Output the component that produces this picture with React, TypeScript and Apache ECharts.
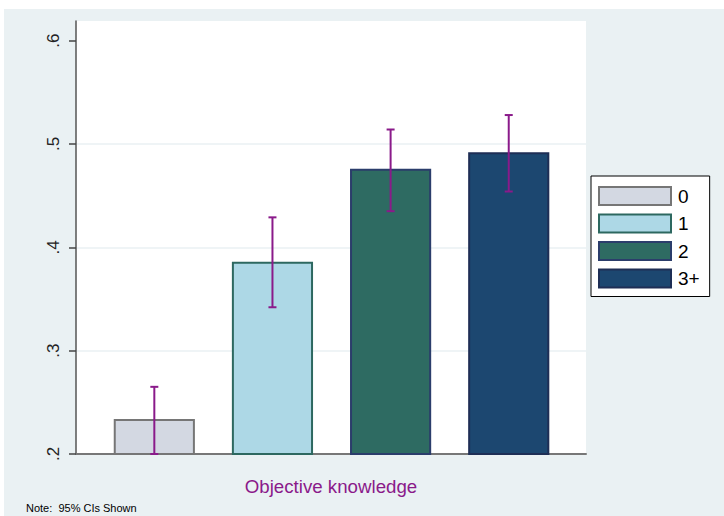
import React, { useEffect, useRef } from "react";
import * as echarts from "echarts";

// Mean share by number of objective-knowledge items, with 95% CIs
const CATEGORIES = ["0", "1", "2", "3+"];
const MEANS = [0.233, 0.385, 0.475, 0.491];
const CI_LOW = [0.2, 0.342, 0.435, 0.454];
const CI_HIGH = [0.265, 0.429, 0.514, 0.528];
const Y_TICKS = [0.2, 0.3, 0.4, 0.5, 0.6];

const FILLS = ["#D3D8E2", "#ADD8E6", "#2E6B62", "#1C4770"];
const STROKES = ["#767676", "#2D6860", "#2B3D6B", "#1E2E55"];
const CI_COLOR = "#8A1A8A";
const FONT = "'Liberation Sans', Arial, sans-serif";

const Y_MIN = 0.2;
const Y_MAX = 0.619;
const BAR_W = 0.67; // in x-data units
const CAP_PX = 8;

export default function App() {
  const ref = useRef<HTMLDivElement>(null);

  useEffect(() => {
    if (!ref.current) return;
    const chart = echarts.init(ref.current, undefined, { renderer: "svg" });

    const barSeries = CATEGORIES.map((name, i) => ({
      name,
      type: "custom" as const,
      xAxisIndex: 0,
      yAxisIndex: 0,
      z: 2,
      itemStyle: { color: FILLS[i], borderColor: STROKES[i], borderWidth: 2 },
      data: [[i, MEANS[i]]],
      renderItem: (params: any, api: any) => {
        const x = api.value(0);
        const top = api.coord([x, api.value(1)]);
        const base = api.coord([x, Y_MIN]);
        const w = api.size([BAR_W, 0])[0];
        return {
          type: "rect",
          shape: { x: top[0] - w / 2, y: top[1], width: w, height: base[1] - top[1] },
          style: { fill: FILLS[i], stroke: STROKES[i], lineWidth: 2 },
        };
      },
    }));

    const ciData = CATEGORIES.map((_, i) => [i, CI_LOW[i], CI_HIGH[i]]);

    chart.setOption({
      animation: false,
      backgroundColor: "#FFFFFF",
      textStyle: { fontFamily: FONT },
      graphic: [
        {
          type: "rect",
          left: 4,
          top: 9,
          z: -10,
          shape: { width: 720, height: 507 },
          style: { fill: "#EAF1F3" },
        },
        {
          type: "text",
          left: 26,
          top: 502,
          style: { text: "Note:  95% CIs Shown", fontSize: 11, fontFamily: FONT, fill: "#000" },
        },
      ],
      grid: {
        left: 76,
        top: 21,
        right: 138,
        bottom: 62,
        show: true,
        backgroundColor: "#FFFFFF",
        borderWidth: 0,
      },
      legend: {
        orient: "vertical",
        left: 591,
        top: 176,
        padding: [10, 10, 8, 7],
        backgroundColor: "#FFFFFF",
        borderColor: "#000000",
        borderWidth: 1,
        borderRadius: 0,
        itemWidth: 72,
        itemHeight: 18,
        itemGap: 7.5,
        icon: "rect",
        selectedMode: false,
        textStyle: { fontSize: 19, lineHeight: 18, color: "#000", fontFamily: FONT, padding: [0, 0, 0, 2] },
        data: CATEGORIES.map((name, i) => ({
          name,
          itemStyle: { color: FILLS[i], borderColor: STROKES[i], borderWidth: 2 },
        })),
      },
      xAxis: {
        type: "value",
        min: -0.663,
        max: 3.654,
        name: "Objective knowledge",
        nameLocation: "middle",
        nameGap: 23,
        nameTextStyle: { color: "#8A1A8A", fontSize: 18.7, fontFamily: FONT },
        axisLine: { show: true, onZero: false, lineStyle: { color: "#777777", width: 2 } },
        axisTick: { show: false },
        axisLabel: { show: false },
        splitLine: { show: false },
      },
      yAxis: {
        type: "value",
        min: Y_MIN,
        max: Y_MAX,
        interval: 0.1,
        axisLine: { show: true, onZero: false, lineStyle: { color: "#555555", width: 1.5 } },
        axisTick: {
          show: true,
          length: 7,
          customValues: Y_TICKS,
          lineStyle: { color: "#444444", width: 1.5 },
        },
        axisLabel: {
          customValues: Y_TICKS,
          rotate: 90,
          margin: 14,
          fontSize: 17,
          color: "#222222",
          fontFamily: FONT,
          formatter: (v: number) => v.toFixed(1).replace(/^0/, ""),
        },
        splitLine: {
          show: true,
          showMinLine: false,
          showMaxLine: false,
          lineStyle: { color: ["#EAF1F3", "#EAF1F3", "#EAF1F3", "transparent"], width: 1.5 },
        },
      },
      series: [
        ...barSeries,
        {
          name: "CI",
          type: "custom",
          z: 5,
          data: ciData,
          renderItem: (params: any, api: any) => {
            const x = api.value(0);
            const lo = api.coord([x, api.value(1)]);
            const hi = api.coord([x, api.value(2)]);
            const h = CAP_PX / 2;
            const style = { stroke: CI_COLOR, lineWidth: 2, fill: "none" };
            return {
              type: "group",
              children: [
                { type: "line", shape: { x1: hi[0], y1: hi[1], x2: lo[0], y2: lo[1] }, style },
                { type: "line", shape: { x1: hi[0] - h, y1: hi[1], x2: hi[0] + h, y2: hi[1] }, style },
                { type: "line", shape: { x1: lo[0] - h, y1: lo[1], x2: lo[0] + h, y2: lo[1] }, style },
              ],
            };
          },
        },
      ],
    });

    return () => chart.dispose();
  }, []);

  return (
    <div
      ref={ref}
      style={{ position: "fixed", left: 0, top: 0, width: 724, height: 516 }}
    />
  );
}
